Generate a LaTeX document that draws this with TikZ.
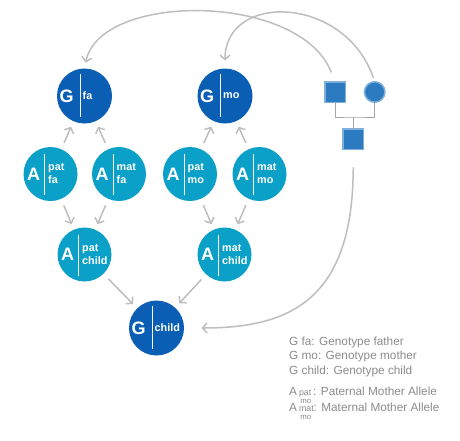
\documentclass[tikz,border=0pt]{standalone}
\usepackage{fontspec}
\setmainfont{Liberation Sans}
\usetikzlibrary{arrows.meta}
\definecolor{gblue}{RGB}{10,94,180}
\definecolor{acyan}{RGB}{10,160,200}
\definecolor{pblue}{RGB}{44,123,192}
\definecolor{arrgray}{RGB}{190,190,190}
\definecolor{leggray}{RGB}{140,140,140}
\definecolor{pedline}{RGB}{165,165,165}
\newcommand\subfont{\fontsize{8.8}{9}\selectfont}
\newcommand\GeneNode[4]{%
  \node[gcirc] (#1) at (#2,#3) {};
  \draw[divider] (#2-4.5,#3-22) -- (#2-4.5,#3+21);
  \node[bigletter] (#1-l) at (#2-18,#3) {G};
  \node[smalllabel] (#1-t) at (#2-2,#3) {#4};
}
\newcommand\AlleleNode[5]{%
  \node[acirc] (#1) at (#2,#3) {};
  \draw[divider] (#2-6,#3-20) -- (#2-6,#3+21);
  \node[bigletter] (#1-l) at (#2-17,#3) {A};
  \node[smalllabel] (#1-t) at (#2-2.5,#3) {#4\\#5};
}
\begin{document}
\begin{tikzpicture}[x=1pt,y=-1pt,
  gcirc/.style={circle,fill=gblue,minimum size=55pt,inner sep=0pt,outer sep=0pt},
  acirc/.style={circle,fill=acyan,minimum size=54pt,inner sep=0pt,outer sep=0pt},
  divider/.style={draw=white,line width=0.9pt},
  bigletter/.style={text=white,font=\bfseries\fontsize{18}{18}\selectfont,inner sep=0pt},
  smalllabel/.style={text=white,anchor=west,align=left,inner sep=0pt,font=\bfseries\fontsize{10.8}{13}\selectfont},
  arr/.style={draw=arrgray,line width=1.5pt,-{Straight Barb[length=4.5pt,width=10pt]}},
  sq/.style={rectangle,fill=pblue,draw=pblue!60,line width=1.5pt,minimum size=20.5pt,inner sep=0pt,outer sep=0pt},
  ci/.style={circle,fill=pblue,draw=pblue!60,line width=1.5pt,minimum size=20.5pt,inner sep=0pt,outer sep=0pt},
  pedl/.style={draw=pedline,line width=1pt},
  legend/.style={text=leggray,anchor=base west,inner sep=0pt,font=\fontsize{11.8}{13}\selectfont}]
\fill[white] (0,0) rectangle (460,440);
\useasboundingbox (0,0) rectangle (460,440);

\GeneNode{gfa}{84.5}{96}{fa}
\GeneNode{gmo}{225}{96}{mo}
\AlleleNode{apf}{50.5}{174}{pat}{fa}
\AlleleNode{amf}{119}{174}{mat}{fa}
\AlleleNode{apm}{190}{174}{pat}{mo}
\AlleleNode{amm}{259.5}{174}{mat}{mo}
\AlleleNode{apc}{84.5}{254.5}{pat}{child}
\AlleleNode{amc}{224.5}{254.5}{mat}{child}
\GeneNode{gc}{156.5}{328}{child}

\begin{scope}[shorten <=7pt,shorten >=6pt]
\draw[arr] (apf) -- (gfa);
\draw[arr] (amf) -- (gfa);
\draw[arr] (apm) -- (gmo);
\draw[arr] (amm) -- (gmo);
\draw[arr] (apf) -- (apc);
\draw[arr] (amf) -- (apc);
\draw[arr] (apm) -- (amc);
\draw[arr] (amm) -- (amc);
\draw[arr] (apc) -- (gc);
\draw[arr] (amc) -- (gc);
\end{scope}

\node[sq] (pfa) at (335,92) {};
\node[ci] (pmo) at (374.7,92) {};
\node[sq] (pch) at (353.3,139) {};
\coordinate (pmid) at (353.3,117);
\draw[pedl] (pfa.south) |- (pmid) -| (pmo.south);
\draw[pedl] (pch.north) -- (pmid);

\draw[arr,shorten <=10pt,shorten >=6pt] (pfa.north) .. controls (300,-8) and (100,-8) .. (gfa.north);
\draw[arr,shorten <=4pt,shorten >=8pt] (pmo.north) .. controls (345,-5) and (225,-8) .. (gmo.north);
\draw[arr,shorten <=18pt,shorten >=17.5pt] (pch.south) .. controls (353,300) and (290,328) .. (gc.east);

\node[legend] (l1) at (289,345) {G fa: Genotype father};
\node[legend] (l2) at (289,359.5) {G mo: Genotype mother};
\node[legend] (l3) at (289,374) {G child: Genotype child};
\node[legend] (l4) at (289,395) {A\,\raisebox{-0.5pt}{\subfont\rlap{\raisebox{-7.5pt}{\fontsize{7.8}{8}\selectfont\,mo}}pat}\,: Paternal Mother Allele};
\node[legend] (l5) at (289,411) {A\,\raisebox{-0.5pt}{\subfont\rlap{\raisebox{-7.5pt}{\fontsize{7.8}{8}\selectfont\,mo}}mat}: Maternal Mother Allele};
\end{tikzpicture}
\end{document}
